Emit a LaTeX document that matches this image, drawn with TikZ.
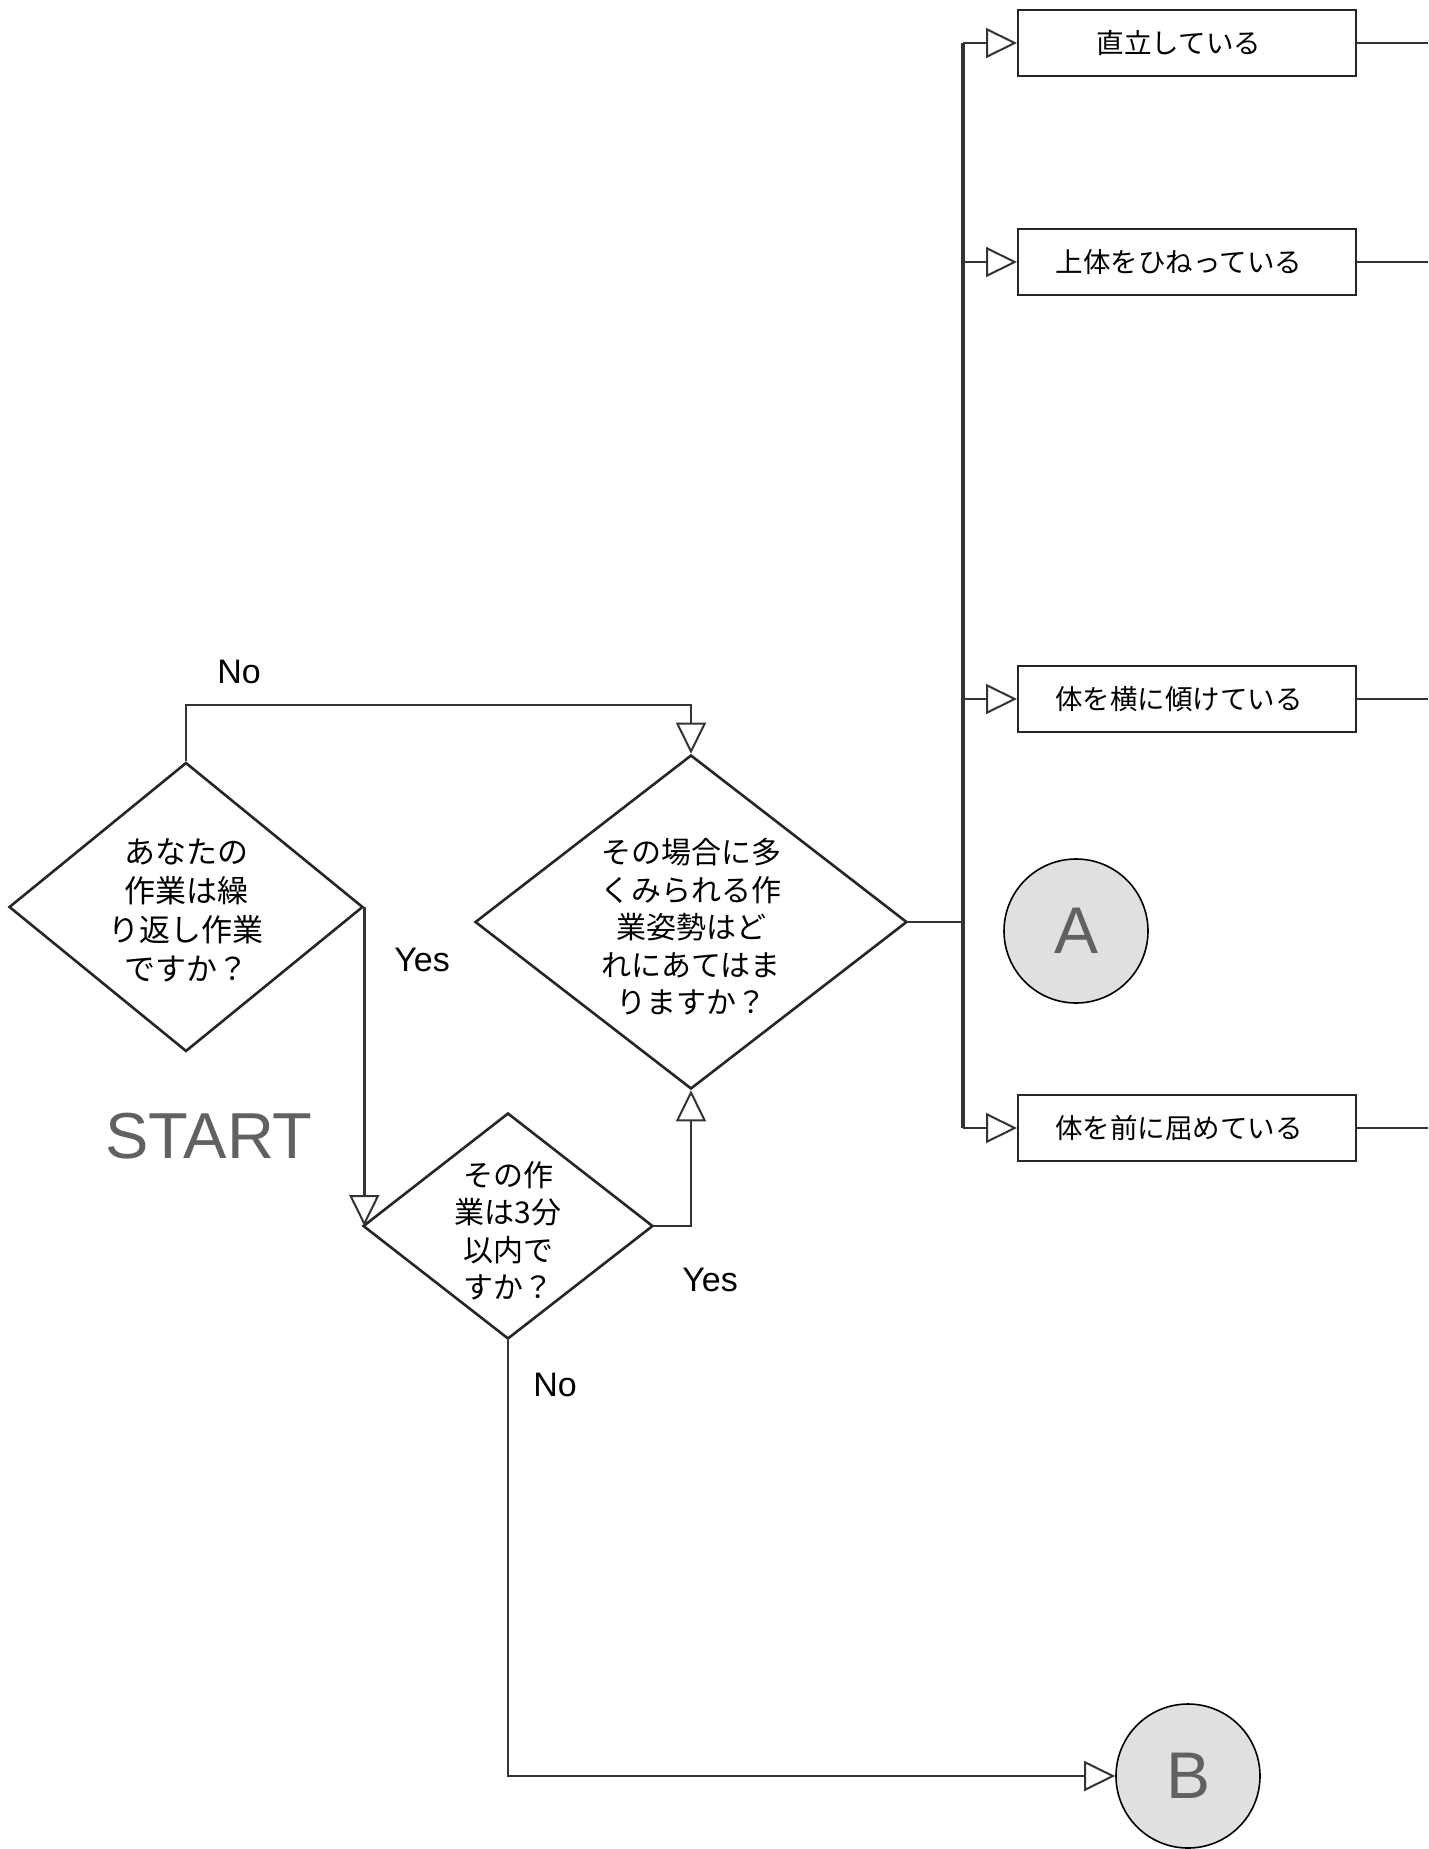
\documentclass[tikz,border=0pt]{standalone}
\usepackage{fontspec}
\setmainfont{Liberation Sans}
\newfontfamily\jp{Noto Sans CJK JP}
\usetikzlibrary{arrows.meta,shapes.geometric}
\begin{document}
\begin{tikzpicture}[x=1pt,y=-1pt,
  line join=miter,
  dia/.style={diamond, draw, inner sep=0pt, line width=2.6pt, color=black!85},
  qtext/.style={font=\jp\fontsize{30}{37.5}\selectfont, align=center, inner sep=0pt},
  optbox/.style={draw, line width=2pt, color=black!85, text=black, minimum width=338pt, minimum height=66pt, inner sep=0pt, font=\jp\fontsize{27.5}{30}\selectfont, execute at end node={\hspace*{16pt}}},
  conn/.style={draw, line width=2.4pt, color=black!80},
  arr/.style={conn, -{Triangle[length=31pt,width=30pt,fill=white,line width=2pt]}},
  lab/.style={font=\fontsize{34}{40}\selectfont, inner sep=0pt},
  bigtxt/.style={font=\fontsize{66}{70}\selectfont, text=black!62, inner sep=0pt},
  circ/.style={circle, draw, line width=1.6pt, fill=black!12, minimum size=144pt, inner sep=0pt}
]
\useasboundingbox (0,0) rectangle (1428,1849);

% decision diamonds
\node[dia, minimum width=354pt, minimum height=289pt] (d1) at (186,907) {};
\node[qtext, font=\jp\fontsize{31}{39}\selectfont] (t1) at (186,910) {あなたの\\作業は繰\\り返し作業\\ですか？};

\node[dia, minimum width=432pt, minimum height=334pt] (d2) at (691,922) {};
\node[qtext] (t2) at (691,927) {その場合に多\\くみられる作\\業姿勢はど\\れにあてはま\\りますか？};

\node[dia, minimum width=290pt, minimum height=226pt] (d3) at (508,1226) {};
\node[qtext] (t3) at (508,1231) {その作\\業は3分\\以内で\\すか？};

% option boxes
\node[optbox] (b1) at (1187,43) {直立している};
\node[optbox] (b2) at (1187,262) {上体をひねっている};
\node[optbox] (b3) at (1187,699) {体を横に傾けている};
\node[optbox] (b4) at (1187,1128) {体を前に屈めている};

% connectors circles
\node[circ] (A) at (1076,931) {};
\node[bigtxt] (Atxt) at (A.center) {A};
\node[circ] (B) at (1188,1776) {};
\node[bigtxt] (Btxt) at (B.center) {B};

% labels
\node[lab] (no1) at (239,672) {No};
\node[lab] (yes1) at (422,960) {Yes};
\node[lab] (yes2) at (710,1280) {Yes};
\node[lab] (no2) at (555,1385) {No};
\node[bigtxt, font=\fontsize{65}{70}\selectfont] (start) at (209,1136) {START};

% bus
\coordinate (bt) at (963,43);
\coordinate (bb) at (963,1128);
\coordinate (edge) at (1428,0);
\coordinate (nocorner) at (186,705);
\draw[conn, line width=3.2pt] (bt) -- (bb);

% flows
\draw[arr] (d1.north) -- (nocorner) -| (d2.north);
\draw[arr] (d1.east) -- (d1.east |- d3.west);
\draw[arr] (d3.east) -| (d2.south);
\draw[arr] (d3.south) |- (B.west);
\draw[conn] (d2.east) -- (d2.east -| bt);

\foreach \b in {b1,b2,b3,b4}{
  \draw[arr] (\b.west -| bt) -- (\b.west);
  \draw[conn] (\b.east) -- (\b.east -| edge);
}
\end{tikzpicture}
\end{document}
